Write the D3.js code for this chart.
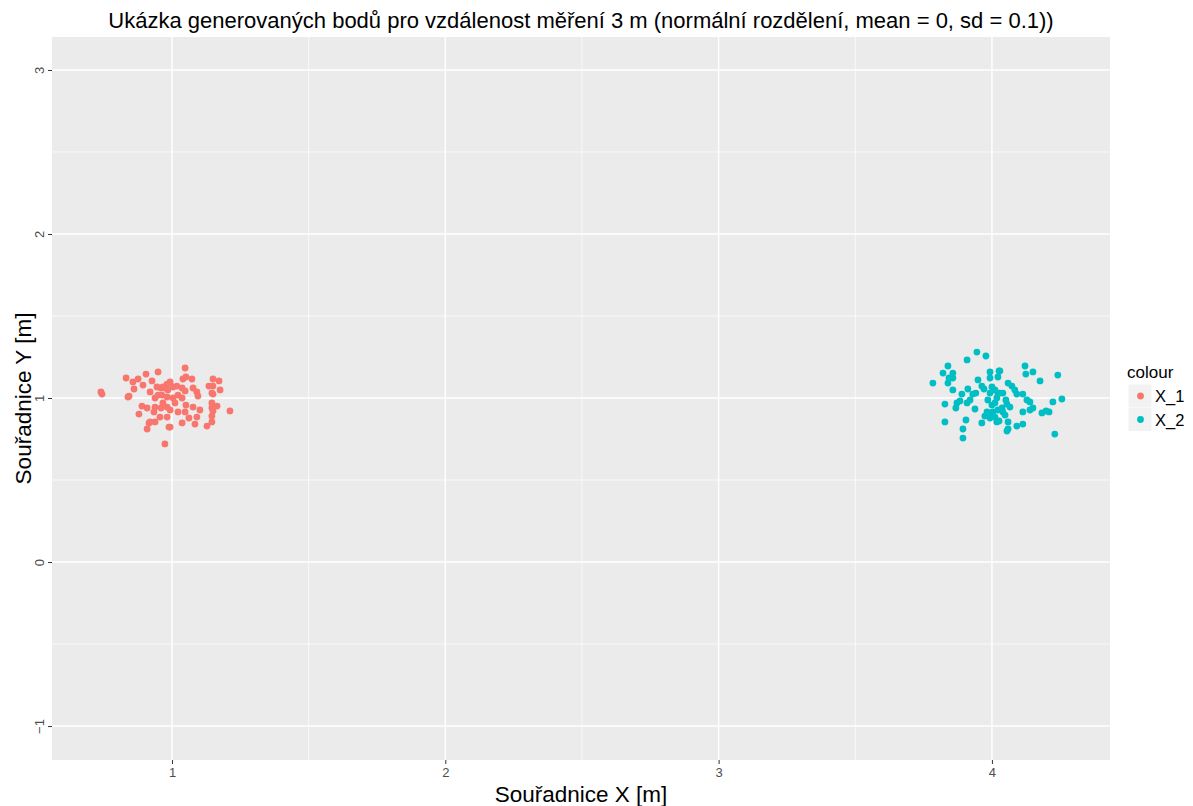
<!DOCTYPE html>
<html><head><meta charset="utf-8">
<script src="https://cdn.jsdelivr.net/npm/d3@7"></script>
<style>body{margin:0;background:#fff}svg{display:block}text{font-family:"Liberation Sans",Arial,sans-serif}</style>
</head><body><svg id="c" width="1193" height="806"></svg>
<script>
const title = "Ukázka generovaných bodů pro vzdálenost měření 3 m (normální rozdělení, mean = 0, sd = 0.1))";
const xLabel = "Souřadnice X [m]";
const yLabel = "Souřadnice Y [m]";
const xTicks = [1, 2, 3, 4];
const yTicks = [-1, 0, 1, 2, 3];
const seriesNames = ["X_1", "X_2"];
const seriesColors = ["#F8766D", "#00BFC4"];
const x1 = [0.740,0.744,0.832,0.857,0.876,0.905,0.949,0.894,0.927,0.861,0.843,0.839,0.920,0.945,0.960,0.974,0.949,0.938,0.890,0.909,0.938,0.934,0.960,0.982,0.879,0.956,0.982,0.920,0.938,0.916,0.909,0.989,0.974,1.048,1.051,1.073,1.040,1.150,1.172,1.135,1.150,1.176,1.146,1.150,1.077,1.091,1.095,0.993,0.982,0.967,1.004,0.985,1.018,1.037,1.048,0.963,0.982,1.004,1.022,1.037,1.011,0.967,1.051,1.077,1.102,1.146,1.165,1.146,1.150,1.022,1.048,0.993,1.212,1.062,1.091,1.146,1.037,1.084,1.128,1.146,0.993];
const y1 = [1.037,1.024,1.122,1.098,1.116,1.146,1.159,1.079,1.104,1.055,1.012,1.006,1.037,1.067,1.061,1.061,1.018,1.000,0.951,0.939,0.945,0.915,0.939,0.945,0.902,0.884,0.884,0.854,0.854,0.848,0.811,0.823,0.720,1.183,1.128,1.116,1.116,1.116,1.104,1.073,1.073,1.049,1.030,1.024,1.061,1.037,1.012,1.098,1.085,1.067,1.067,1.049,1.073,1.061,1.043,1.018,1.006,1.000,1.018,1.000,0.970,0.970,0.957,0.945,0.927,0.970,0.951,0.939,0.921,0.915,0.915,0.927,0.921,0.878,0.884,0.890,0.848,0.841,0.829,0.854,0.823];
const x2 = [3.945,3.978,3.909,3.839,3.821,3.857,3.993,4.026,3.843,3.857,3.839,3.784,3.949,3.963,3.971,3.993,3.857,3.912,3.890,3.930,3.941,4.000,4.011,3.993,4.022,3.883,3.872,3.909,3.920,3.828,3.985,4.000,4.011,3.868,3.938,3.982,3.993,4.022,3.974,3.993,4.011,3.905,3.828,3.963,4.018,3.894,3.894,4.121,4.124,4.150,4.241,4.029,4.022,4.176,4.059,4.073,4.084,4.091,4.113,4.029,4.040,4.128,4.139,4.223,4.256,4.018,4.051,4.055,4.066,4.037,4.150,4.139,4.113,4.183,4.198,4.209,4.004,4.040,4.048,4.026,4.059,4.091,4.113,4.059,4.055,4.230];
const y2 = [1.280,1.256,1.232,1.195,1.152,1.152,1.159,1.165,1.122,1.122,1.091,1.091,1.110,1.073,1.055,1.122,1.049,1.055,1.024,1.024,1.030,1.067,1.049,1.030,1.030,0.982,0.970,0.970,0.988,0.963,0.988,0.957,0.970,0.939,0.933,0.915,0.909,0.927,0.890,0.878,0.884,0.866,0.854,0.848,0.854,0.811,0.756,1.195,1.146,1.159,1.140,1.165,1.128,1.104,1.091,1.073,1.049,1.024,1.024,1.030,1.030,0.988,0.976,0.976,0.994,1.000,0.988,0.963,0.945,0.939,0.939,0.927,0.915,0.909,0.921,0.915,0.915,0.915,0.896,0.860,0.854,0.829,0.841,0.811,0.799,0.780];

const svg = d3.select("#c");
const P = {l: 52, r: 1110, t: 37, b: 760};
const x = d3.scaleLinear().domain([0.561, 4.432]).range([P.l, P.r]);
const y = d3.scaleLinear().domain([-1.207, 3.201]).range([P.b, P.t]);

svg.append("rect").attr("x", P.l).attr("y", P.t).attr("width", P.r - P.l).attr("height", P.b - P.t).attr("fill", "#ebebeb");
const g = svg.append("g");
const xMinor = [1.5, 2.5, 3.5];
const yMinor = [-0.5, 0.5, 1.5, 2.5];
g.selectAll(".xm").data(xMinor).join("line").attr("x1", d => x(d)).attr("x2", d => x(d)).attr("y1", P.t).attr("y2", P.b).attr("stroke", "#fff").attr("stroke-width", 0.7);
g.selectAll(".ym").data(yMinor).join("line").attr("y1", d => y(d)).attr("y2", d => y(d)).attr("x1", P.l).attr("x2", P.r).attr("stroke", "#fff").attr("stroke-width", 0.7);
g.selectAll(".xM").data(xTicks).join("line").attr("x1", d => x(d)).attr("x2", d => x(d)).attr("y1", P.t).attr("y2", P.b).attr("stroke", "#fff").attr("stroke-width", 1.4);
g.selectAll(".yM").data(yTicks).join("line").attr("y1", d => y(d)).attr("y2", d => y(d)).attr("x1", P.l).attr("x2", P.r).attr("stroke", "#fff").attr("stroke-width", 1.4);

// axes
const xa = svg.append("g").attr("transform", `translate(0,${P.b})`).call(d3.axisBottom(x).tickValues(xTicks).tickSize(4).tickPadding(4).tickFormat(d3.format("d")));
const ya = svg.append("g").attr("transform", `translate(${P.l},0)`).call(d3.axisLeft(y).tickValues(yTicks).tickSize(4).tickPadding(4).tickFormat(d3.format("d")));
[xa, ya].forEach(a => { a.select(".domain").remove(); a.selectAll("line").attr("stroke", "#333").attr("stroke-width", 1); a.selectAll("text").attr("fill", "#4d4d4d").style("font-size", "13px").style("font-family", "Liberation Sans, Arial, sans-serif"); });
ya.selectAll("text").attr("transform", "rotate(-90)").attr("x", 0).attr("y", -8).attr("dy", "0").attr("text-anchor", "middle");

// points
const pts = [];
x1.forEach((v, i) => pts.push({x: v, y: y1[i], s: 0}));
x2.forEach((v, i) => pts.push({x: v, y: y2[i], s: 1}));
svg.append("g").selectAll("circle").data(pts).join("circle").attr("cx", d => x(d.x)).attr("cy", d => y(d.y)).attr("r", 3.4).attr("fill", d => seriesColors[d.s]);

// titles
svg.append("text").attr("x", (P.l + P.r) / 2).attr("y", 28).attr("text-anchor", "middle").style("font-size", "22px").attr("fill", "#000").text(title);
svg.append("text").attr("x", (P.l + P.r) / 2).attr("y", 802).attr("text-anchor", "middle").style("font-size", "22.5px").attr("fill", "#000").text(xLabel);
svg.append("text").attr("transform", `translate(31,${(P.t + P.b) / 2}) rotate(-90)`).attr("text-anchor", "middle").style("font-size", "22.5px").attr("fill", "#000").text(yLabel);

// legend
const lg = svg.append("g");
lg.append("text").attr("x", 1127).attr("y", 378).style("font-size", "17px").attr("fill", "#000").text("colour");
seriesNames.forEach((n, i) => {
  const cy = 396 + i * 23.5;
  lg.append("rect").attr("x", 1128.5).attr("y", cy - 11.5).attr("width", 23).attr("height", 23).attr("fill", "#f2f2f2");
  lg.append("circle").attr("cx", 1140.5).attr("cy", cy).attr("r", 3.4).attr("fill", seriesColors[i]);
  lg.append("text").attr("x", 1155).attr("y", cy + 6).style("font-size", "16.5px").attr("fill", "#000").text(n);
});
</script></body></html>
